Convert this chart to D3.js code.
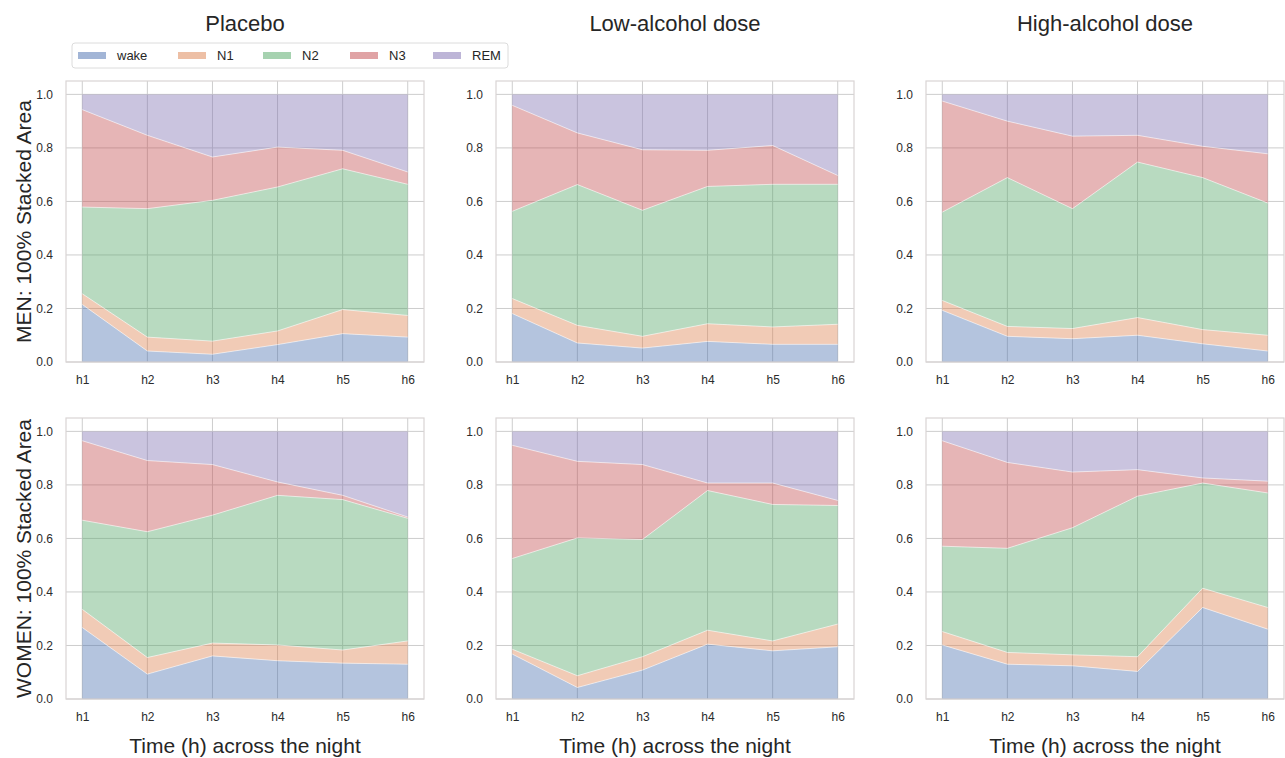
<!DOCTYPE html>
<html>
<head>
  <meta charset="utf-8">
  <title>Sleep stages across the night</title>
  <script src="https://d3js.org/d3.v7.min.js"></script>
  <style>
    body { margin: 0; background: #fff; }
    svg { font-family: "Liberation Sans", Arial, sans-serif; }
    .tick text { fill: #2b2b2b; font-size: 12px; }
    .gridline { stroke: #cdcdcd; stroke-width: 1; }
  </style>
</head>
<body>
  <svg id="screen"></svg>

  <script>
    // categories
    const stages = ['wake', 'N1', 'N2', 'N3', 'REM']
    const hours = ['h1', 'h2', 'h3', 'h4', 'h5', 'h6']
    const doses = ['Placebo', 'Low-alcohol dose', 'High-alcohol dose']
    const groups = ['MEN', 'WOMEN']
    const yTicks = [0, 0.2, 0.4, 0.6, 0.8, 1.0]

    // proportions, one row per stage (wake, N1, N2, N3, REM), one column per hour
    const menPlacebo = [
      [0.215, 0.041, 0.029, 0.065, 0.106, 0.093],
      [0.040, 0.052, 0.049, 0.051, 0.090, 0.081],
      [0.324, 0.480, 0.526, 0.538, 0.526, 0.490],
      [0.364, 0.274, 0.162, 0.149, 0.069, 0.046],
      [0.057, 0.153, 0.234, 0.197, 0.209, 0.290]
    ]
    const menLow = [
      [0.181, 0.071, 0.052, 0.077, 0.066, 0.066],
      [0.056, 0.066, 0.044, 0.066, 0.065, 0.075],
      [0.326, 0.526, 0.471, 0.513, 0.533, 0.523],
      [0.396, 0.193, 0.226, 0.135, 0.145, 0.033],
      [0.041, 0.144, 0.207, 0.209, 0.191, 0.303]
    ]
    const menHigh = [
      [0.193, 0.096, 0.087, 0.100, 0.068, 0.041],
      [0.037, 0.037, 0.038, 0.066, 0.053, 0.059],
      [0.330, 0.556, 0.448, 0.581, 0.568, 0.494],
      [0.415, 0.211, 0.271, 0.100, 0.117, 0.184],
      [0.025, 0.100, 0.156, 0.153, 0.194, 0.222]
    ]
    const womenPlacebo = [
      [0.267, 0.093, 0.161, 0.143, 0.134, 0.130],
      [0.068, 0.062, 0.048, 0.059, 0.049, 0.087],
      [0.333, 0.470, 0.478, 0.559, 0.562, 0.458],
      [0.297, 0.266, 0.189, 0.050, 0.016, 0.005],
      [0.035, 0.109, 0.124, 0.189, 0.239, 0.320]
    ]
    const womenLow = [
      [0.168, 0.043, 0.108, 0.205, 0.180, 0.195],
      [0.018, 0.044, 0.050, 0.052, 0.037, 0.085],
      [0.339, 0.515, 0.438, 0.522, 0.510, 0.443],
      [0.423, 0.286, 0.280, 0.028, 0.080, 0.019],
      [0.052, 0.112, 0.124, 0.193, 0.193, 0.258]
    ]
    const womenHigh = [
      [0.202, 0.130, 0.124, 0.103, 0.342, 0.261],
      [0.050, 0.044, 0.041, 0.055, 0.072, 0.081],
      [0.319, 0.389, 0.475, 0.600, 0.393, 0.428],
      [0.394, 0.321, 0.208, 0.099, 0.019, 0.044],
      [0.035, 0.116, 0.152, 0.143, 0.174, 0.186]
    ]
    const panels = [
      [menPlacebo, menLow, menHigh],
      [womenPlacebo, womenLow, womenHigh]
    ]

    // seaborn "deep" colours, drawn with alpha like the original
    const colors = ['#4c72b0', '#dd8452', '#55a868', '#c44e52', '#8172b3']
    const alpha = 0.42

    let W = 1285, H = 758
    let frame = d3.select('#screen').attr('width', W).attr('height', H)

    // panel geometry
    let pw = 358, ph = 281
    let colLeft = [66, 496, 926]
    let rowTop = [81, 418]

    let x = d3.scaleLinear().domain([-0.25, 5.25]).range([0, pw])
    let y = d3.scaleLinear().domain([0, 1.05]).range([ph, 0])

    let stack = d3.stack().keys(stages)
    let area = d3.area()
      .x(d => x(d.data.i))
      .y0(d => y(d[0]))
      .y1(d => y(d[1]))
    let topLine = d3.line()
      .x(d => x(d.data.i))
      .y(d => y(d[1]))

    groups.forEach(function(grp, r) {
      doses.forEach(function(dose, c) {
        let vals = panels[r][c]
        let rows = hours.map(function(h, i) {
          let row = {i: i}
          stages.forEach((s, k) => row[s] = vals[k][i])
          return row
        })
        let series = stack(rows)

        let g = frame.append('g')
          .attr('transform', `translate(${colLeft[c]},${rowTop[r]})`)

        // grid below the areas
        g.append('g').selectAll('line.h')
          .data(yTicks).enter().append('line')
          .attr('class', 'gridline')
          .attr('x1', 0).attr('x2', pw)
          .attr('y1', d => y(d)).attr('y2', d => y(d))
        g.append('g').selectAll('line.v')
          .data(d3.range(hours.length)).enter().append('line')
          .attr('class', 'gridline')
          .attr('y1', 0).attr('y2', ph)
          .attr('x1', d => x(d)).attr('x2', d => x(d))

        // stacked areas
        g.append('g').selectAll('path')
          .data(series).enter().append('path')
          .attr('d', area)
          .attr('fill', (d, k) => colors[k])
          .attr('fill-opacity', alpha)

        // thin light seams between layers
        g.append('g').selectAll('path')
          .data(series.slice(0, 4)).enter().append('path')
          .attr('d', topLine)
          .attr('fill', 'none')
          .attr('stroke', '#fff')
          .attr('stroke-opacity', 0.55)
          .attr('stroke-width', 1)

        // frame
        g.append('rect')
          .attr('width', pw).attr('height', ph)
          .attr('fill', 'none')
          .attr('stroke', '#d9d4d4')
          .attr('stroke-width', 1.2)

        // axes
        let ya = g.append('g')
          .call(d3.axisLeft(y).tickValues(yTicks).tickFormat(d3.format('.1f')).tickSize(0).tickPadding(13))
        ya.select('.domain').remove()
        let xa = g.append('g')
          .attr('transform', `translate(0,${ph})`)
          .call(d3.axisBottom(x).tickValues(d3.range(hours.length)).tickFormat(i => hours[i]).tickSize(0).tickPadding(13))
        xa.select('.domain').remove()

        if (r == 0) {
          frame.append('text')
            .attr('x', colLeft[c] + pw / 2).attr('y', 31)
            .attr('text-anchor', 'middle')
            .attr('font-size', 22).attr('fill', '#262626')
            .text(dose)
        }
        if (r == 1) {
          frame.append('text')
            .attr('x', colLeft[c] + pw / 2).attr('y', 753)
            .attr('text-anchor', 'middle')
            .attr('font-size', 21).attr('fill', '#262626')
            .text('Time (h) across the night')
        }
      })

      // row label
      frame.append('text')
        .attr('transform', `translate(24,${rowTop[r] + ph / 2}) rotate(-90)`)
        .attr('text-anchor', 'middle')
        .attr('dy', '0.35em')
        .attr('font-size', 21).attr('fill', '#262626')
        .text(grp + ': 100% Stacked Area')
    })

    // legend
    let legX = [78, 178, 263, 350, 433]
    let leg = frame.append('g')
    leg.append('rect')
      .attr('x', 72).attr('y', 43).attr('width', 436).attr('height', 25)
      .attr('rx', 3)
      .attr('fill', '#fff').attr('stroke', '#dcdcdc')
    stages.forEach(function(s, k) {
      leg.append('rect')
        .attr('x', legX[k]).attr('y', 52).attr('width', 28).attr('height', 7)
        .attr('fill', colors[k]).attr('fill-opacity', alpha + 0.1)
      leg.append('text')
        .attr('x', legX[k] + 39).attr('y', 60)
        .attr('font-size', 13).attr('fill', '#262626')
        .text(s)
    })
  </script>
</body>
</html>
